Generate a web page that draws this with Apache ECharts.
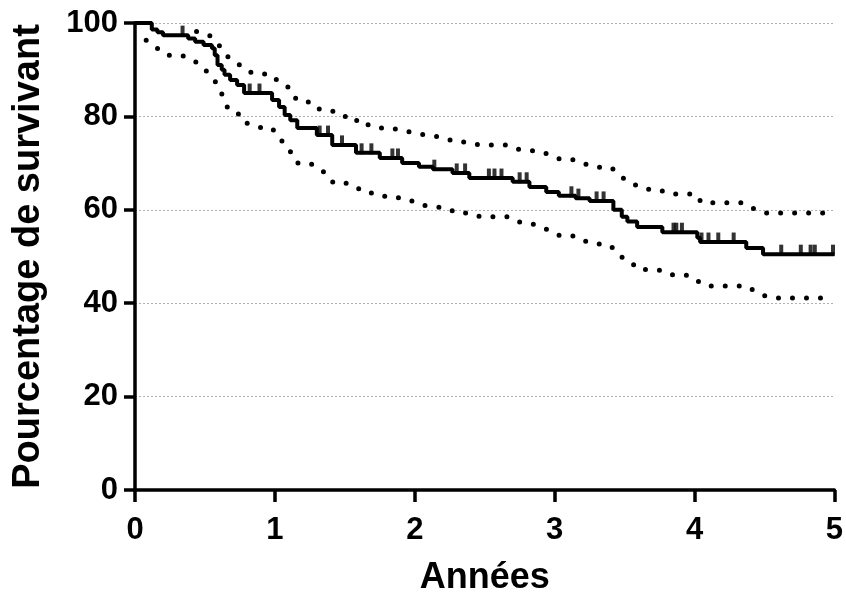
<!DOCTYPE html>
<html>
<head>
<meta charset="utf-8">
<script src="https://cdn.jsdelivr.net/npm/echarts@6/dist/echarts.min.js"></script>
<style>
  html, body { margin: 0; padding: 0; background: #fff; }
  #chart { width: 846px; height: 603px; }
</style>
</head>
<body>
<div id="chart"></div>
<script>
// survival estimate (years, %)
var survX = [0, 0.12, 0.16, 0.20, 0.38, 0.43, 0.49, 0.55, 0.57, 0.59, 0.62, 0.64, 0.68, 0.73, 0.78, 0.98, 1.03, 1.07, 1.11, 1.16, 1.30, 1.41, 1.58, 1.75, 1.91, 2.03, 2.13, 2.27, 2.39, 2.70, 2.82, 2.94, 3.03, 3.15, 3.25, 3.42, 3.48, 3.52, 3.59, 3.77, 4.02, 4.04, 4.37, 4.49, 5.0];
var survY = [100, 98.6, 98.0, 97.4, 96.7, 96.0, 95.3, 94.6, 93.1, 91.0, 90.0, 88.9, 87.8, 86.7, 85.0, 83.5, 82.0, 80.3, 79.2, 77.5, 76.0, 73.9, 72.2, 71.1, 70.0, 69.2, 68.7, 67.9, 66.8, 66.0, 64.9, 63.8, 63.0, 62.5, 61.9, 60.0, 58.5, 57.5, 56.3, 55.2, 54.0, 53.1, 51.8, 50.5, 50.5];

// censored observations
var censX = [0.34, 0.82, 0.89, 1.32, 1.38, 1.48, 1.62, 1.69, 1.84, 1.88, 2.14, 2.30, 2.36, 2.53, 2.57, 2.62, 2.75, 2.80, 3.12, 3.17, 3.30, 3.35, 3.85, 3.87, 3.91, 4.05, 4.10, 4.17, 4.28, 4.62, 4.76, 4.83, 4.86, 4.99];
var censY = [97.4, 85.0, 85.0, 76.0, 76.0, 73.9, 72.2, 72.2, 71.1, 71.1, 68.7, 67.9, 67.9, 66.8, 66.8, 66.8, 66.0, 66.0, 63.0, 62.5, 61.9, 61.9, 55.2, 55.2, 55.2, 53.1, 53.1, 53.1, 53.1, 50.5, 50.5, 50.5, 50.5, 50.5];

// 95% confidence band
var upperX = [0.44, 0.54, 0.59, 0.63, 0.68, 0.74, 0.80, 0.87, 0.97, 1.02, 1.09, 1.12, 1.18, 1.27, 1.32, 1.41, 1.47, 1.57, 1.60, 1.70, 1.78, 1.88, 1.96, 2.04, 2.13, 2.21, 2.29, 2.38, 2.46, 2.65, 2.73, 2.83, 2.91, 2.98, 3.05, 3.15, 3.22, 3.30, 3.40, 3.46, 3.51, 3.58, 3.65, 3.74, 3.82, 4.01, 4.05, 4.34, 4.41, 4.51, 4.97];
var upperY = [98.2, 97.2, 95.8, 93.8, 92.3, 91.2, 89.7, 89.1, 89.1, 87.6, 86.5, 84.6, 83.1, 83.1, 81.5, 81.2, 80.0, 80.0, 78.2, 78.2, 77.3, 77.3, 76.7, 76.2, 75.8, 75.4, 74.5, 74.5, 73.9, 73.9, 73.0, 72.7, 72.4, 71.5, 70.7, 70.7, 69.8, 69.1, 69.1, 67.7, 66.2, 65.3, 64.4, 64.4, 63.4, 63.4, 61.5, 61.5, 60.4, 59.3, 59.3];
var lowerX = [0.08, 0.11, 0.17, 0.23, 0.33, 0.40, 0.46, 0.51, 0.56, 0.60, 0.63, 0.66, 0.73, 0.76, 0.83, 0.91, 0.98, 1.03, 1.08, 1.12, 1.16, 1.25, 1.31, 1.37, 1.42, 1.52, 1.58, 1.64, 1.73, 1.81, 1.91, 1.98, 2.05, 2.14, 2.23, 2.30, 2.40, 2.47, 2.67, 2.74, 2.82, 2.90, 2.97, 3.04, 3.14, 3.20, 3.27, 3.37, 3.44, 3.48, 3.55, 3.59, 3.78, 3.85, 3.96, 4.02, 4.08, 4.37, 4.44, 4.51, 4.59, 4.99];
var lowerY = [96.3, 95.5, 94.4, 93.1, 93.1, 92.3, 91.2, 89.7, 88.2, 86.1, 84.2, 82.0, 81.2, 79.0, 78.2, 77.5, 77.5, 75.2, 74.1, 72.0, 70.0, 70.0, 68.9, 67.7, 65.7, 65.7, 64.9, 63.6, 63.6, 62.6, 62.6, 61.9, 61.0, 60.6, 60.4, 59.3, 59.3, 58.5, 58.5, 57.4, 57.2, 56.3, 55.5, 54.4, 54.4, 53.5, 52.7, 52.7, 51.4, 49.9, 48.8, 47.3, 47.0, 46.0, 46.0, 44.8, 43.7, 43.7, 42.4, 41.5, 41.1, 41.1];

var xTicks = [0, 1, 2, 3, 4, 5];
var yTicks = [0, 20, 40, 60, 80, 100];

function pairs(xs, ys) {
  var out = [];
  for (var i = 0; i < xs.length; i++) out.push([xs[i], ys[i]]);
  return out;
}

var font = 'Liberation Sans, Arial, sans-serif';
var chart = echarts.init(document.getElementById('chart'));

var dotted = {
  color: '#000',
  width: 5,
  type: [0, 14],
  cap: 'round'
};

chart.setOption({
  animation: false,
  grid: { left: 135, right: 10, top: 23, bottom: 113 },
  xAxis: {
    type: 'value',
    min: xTicks[0],
    max: xTicks[xTicks.length - 1],
    interval: 1,
    name: 'Années',
    nameLocation: 'middle',
    nameGap: 70,
    nameTextStyle: { fontFamily: font, fontWeight: 'bold', fontSize: 36, color: '#000' },
    axisLine: { onZero: false, lineStyle: { color: '#000', width: 3.5 } },
    axisTick: { length: 12, lineStyle: { color: '#000', width: 3.5 } },
    axisLabel: { margin: 25, fontFamily: font, fontWeight: 'bold', fontSize: 31, color: '#000' },
    splitLine: { show: false }
  },
  yAxis: {
    type: 'value',
    min: yTicks[0],
    max: yTicks[yTicks.length - 1],
    interval: 20,
    name: 'Pourcentage de survivant',
    nameLocation: 'middle',
    nameGap: 87,
    nameTextStyle: { fontFamily: font, fontWeight: 'bold', fontSize: 38, color: '#000' },
    axisLine: { show: true, lineStyle: { color: '#000', width: 3.5 } },
    axisTick: { show: true, length: 11, lineStyle: { color: '#000', width: 3.5 } },
    axisLabel: { margin: 17, fontFamily: font, fontWeight: 'bold', fontSize: 31, color: '#000' },
    splitLine: { show: true, lineStyle: { color: '#b0b0b0', width: 1, type: [2, 2] } }
  },
  series: [
    {
      name: 'upper',
      type: 'line',
      data: pairs(upperX, upperY),
      showSymbol: false,
      silent: true,
      lineStyle: dotted
    },
    {
      name: 'lower',
      type: 'line',
      data: pairs(lowerX, lowerY),
      showSymbol: false,
      silent: true,
      lineStyle: dotted
    },
    {
      name: 'survie',
      type: 'line',
      step: 'end',
      data: pairs(survX, survY),
      showSymbol: false,
      silent: true,
      lineStyle: { color: '#000', width: 4 }
    },
    {
      name: 'censure',
      type: 'scatter',
      data: pairs(censX, censY),
      symbol: 'rect',
      symbolSize: [4, 11],
      symbolOffset: [0, -4],
      silent: true,
      itemStyle: { color: '#000' }
    }
  ]
});
</script>
</body>
</html>
